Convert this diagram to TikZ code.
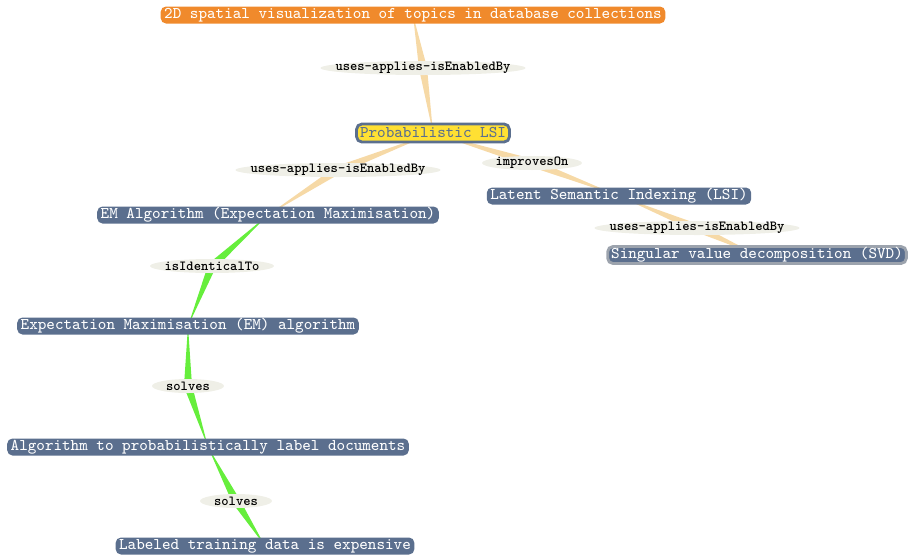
\documentclass[tikz,border=0pt]{standalone}
\usepackage{fontspec}
\usetikzlibrary{calc,backgrounds}
\definecolor{topicorange}{HTML}{F08A2C}
\definecolor{slateblue}{HTML}{5B6F8E}
\definecolor{plsiyellow}{HTML}{FFE033}
\definecolor{relgray}{HTML}{EFEFE7}
\definecolor{usesbeige}{HTML}{F6D9A6}
\definecolor{solvesgreen}{HTML}{66EE3C}
\definecolor{selgray}{HTML}{9CA3AD}
\tikzset{
  topic/.style={rectangle, rounded corners=3pt, fill=slateblue, text=white,
    font=\ttfamily\fontsize{9.3}{10}\selectfont, inner xsep=2pt, inner ysep=0pt,
    minimum height=0.34cm},
  rel/.style={rectangle, font=\ttfamily\bfseries\fontsize{7.9}{9}\selectfont,
    inner sep=0pt, minimum height=0.28cm},
}
\newcommand{\wedgeline}[3]{\fill[#1] (#2.center) -- ($(#3.center)!2.3pt!90:(#2.center)$) -- ($(#3.center)!2.3pt!-90:(#2.center)$) -- cycle;}
\begin{document}
\begin{tikzpicture}[x=0.02cm, y=-0.02cm]
    \useasboundingbox (0,0) rectangle (909,555);
    % Nodes
    \node[topic, fill=topicorange] (node1) at (413,15) {2D spatial visualization of topics in database collections};
    \node[topic, fill=plsiyellow, draw=slateblue, line width=1.6pt, text=slateblue, minimum height=0.36cm] (node2) at (433,133) {Probabilistic LSI};
    \node[topic] (node3) at (268,215) {EM Algorithm (Expectation Maximisation)};
    \node[topic] (node4) at (619,196) {Latent Semantic Indexing (LSI)};
    \node[topic, draw=selgray, line width=1.6pt] (node5) at (757,255) {Singular value decomposition (SVD)};
    \node[topic] (node6) at (188,326) {Expectation Maximisation (EM) algorithm};
    \node[topic] (node7) at (208,447) {Algorithm to probabilistically label documents};
    \node[topic] (node8) at (265,546) {Labeled training data is expensive};
    % Relation labels
    \node[rel] (rel1) at (423,68) {uses-applies-isEnabledBy};
    \node[rel] (rel2) at (338,170) {uses-applies-isEnabledBy};
    \node[rel] (rel3) at (532,163) {improvesOn};
    \node[rel] (rel4) at (697,228) {uses-applies-isEnabledBy};
    \node[rel] (rel5) at (212,266) {isIdenticalTo};
    \node[rel] (rel6) at (188,386) {solves};
    \node[rel] (rel7) at (236,501) {solves};
    % Connection
    \begin{pgfonlayer}{background}
      \wedgeline{usesbeige}{node1}{rel1}
      \wedgeline{usesbeige}{node2}{rel1}
      \wedgeline{usesbeige}{node2}{rel2}
      \wedgeline{usesbeige}{node3}{rel2}
      \wedgeline{usesbeige}{node2}{rel3}
      \wedgeline{usesbeige}{node4}{rel3}
      \wedgeline{usesbeige}{node4}{rel4}
      \wedgeline{usesbeige}{node5}{rel4}
      \wedgeline{solvesgreen}{node3}{rel5}
      \wedgeline{solvesgreen}{node6}{rel5}
      \wedgeline{solvesgreen}{node6}{rel6}
      \wedgeline{solvesgreen}{node7}{rel6}
      \wedgeline{solvesgreen}{node7}{rel7}
      \wedgeline{solvesgreen}{node8}{rel7}
      \foreach \n/\r in {rel1/2.05, rel2/2.05, rel3/1.0, rel4/2.05, rel5/1.24, rel6/0.72, rel7/0.72}
        \fill[relgray] (\n.center) ellipse [x radius=\r cm, y radius=0.14cm];
    \end{pgfonlayer}
  \end{tikzpicture}
\end{document}
